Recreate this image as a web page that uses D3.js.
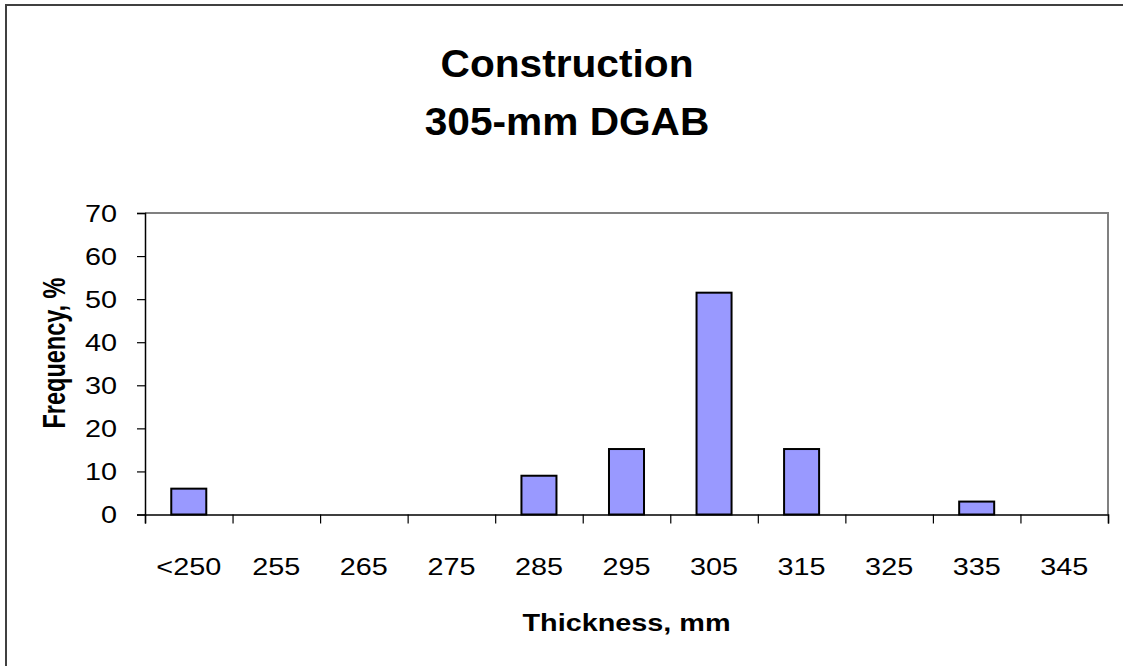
<!DOCTYPE html>
<html>
<head>
<meta charset="utf-8">
<script src="https://cdn.jsdelivr.net/npm/d3@7"></script>
<style>
html,body{margin:0;padding:0;background:#fff;overflow:hidden;width:1123px;height:666px;}
svg{display:block;position:absolute;left:0;top:0;}
text{font-family:"Liberation Sans",Arial,sans-serif;fill:#000;}
</style>
</head>
<body>
<svg id="chart" width="1123" height="666"></svg>
<script>
const categories = ["<250","255","265","275","285","295","305","315","325","335","345"];
const frequency = [6, 0, 0, 0, 9, 15.2, 51.5, 15.2, 0, 3, 0];
const yTicks = [0,10,20,30,40,50,60,70];
const titleLines = ["Construction","305-mm DGAB"];
const xTitle = "Thickness, mm";
const yTitle = "Frequency, %";

const m = {left:145, right:1108, top:213, bottom:514.5};
const SX = 1.2; // horizontal stretch of the reference text

const svg = d3.select("#chart");

svg.append("rect").attr("x",0).attr("y",0).attr("width",1123).attr("height",666).attr("fill","#fff");

// outer chart border: only top and left edges are inside the picture
svg.append("path").attr("d","M6,666V5H1123")
  .attr("fill","none").attr("stroke","#404040").attr("stroke-width",2);

const x = d3.scaleBand().domain(categories).range([m.left,m.right]).paddingInner(0.6).paddingOuter(0.3);
const xi = d3.scaleLinear().domain([0,categories.length]).range([m.left,m.right]);
const y = d3.scaleLinear().domain([0,70]).range([m.bottom,m.top]);

// plot area border top & right
svg.append("path").attr("d",`M${m.left},${m.top}H${m.right}V${m.bottom}`)
  .attr("fill","none").attr("stroke","#808080").attr("stroke-width",2);

// bars
svg.append("g").selectAll("rect").data(categories.map((c,i)=>({c,v:frequency[i]})).filter(d=>d.v>0))
  .join("rect")
  .attr("x",d=>x(d.c)).attr("width",x.bandwidth())
  .attr("y",d=>y(d.v)).attr("height",d=>y(0)-y(d.v))
  .attr("fill","#9999FF").attr("stroke","#000").attr("stroke-width",2);

// y axis
const gy = svg.append("g").attr("transform",`translate(${m.left},0)`)
  .call(d3.axisLeft(y).tickValues(yTicks).tickSize(8).tickPadding(0).tickFormat(d3.format("d")));
gy.select(".domain").attr("stroke","#000").attr("stroke-width",1.5);
gy.selectAll(".tick line").attr("stroke","#000").attr("stroke-width",1.2);
gy.selectAll(".tick text").each(function(){
  d3.select(this).attr("x",null).attr("dy",null).attr("text-anchor","end")
   .attr("font-size",24).attr("dominant-baseline","central")
   .attr("transform",`translate(-28,0) scale(${SX},1)`);
});

// x axis ticks at band boundaries
const gx = svg.append("g").attr("transform",`translate(0,${m.bottom})`)
  .call(d3.axisBottom(xi).tickValues(d3.range(categories.length+1)).tickSize(9).tickFormat(""));
gx.select(".domain").attr("stroke","#000").attr("stroke-width",1.5);
gx.selectAll(".tick line").attr("stroke","#000").attr("stroke-width",1.2);

// x labels
const gxl = svg.append("g").attr("transform",`translate(0,${m.bottom})`)
  .call(d3.axisBottom(x).tickSize(0).tickPadding(0));
gxl.select(".domain").remove();
gxl.selectAll(".tick text").each(function(){
  d3.select(this).attr("y",null).attr("dy",null)
   .attr("font-size",24).attr("text-anchor","middle")
   .attr("transform",`translate(0,60.5) scale(${SX},1)`);
});

// title
const tCx = 567;
svg.append("text").attr("transform",`translate(${tCx},77) scale(1.07,1)`)
  .attr("text-anchor","middle").attr("font-weight","bold").attr("font-size",38).text(titleLines[0]);
svg.append("text").attr("transform",`translate(${tCx},135) scale(1.07,1)`)
  .attr("text-anchor","middle").attr("font-weight","bold").attr("font-size",38).text(titleLines[1]);

// axis titles
svg.append("text").attr("transform",`translate(${(m.left+m.right)/2},631) scale(1.2,1)`)
  .attr("text-anchor","middle").attr("font-weight","bold").attr("font-size",24).text(xTitle);
svg.append("text").attr("transform",`translate(65,353) scale(1.3,1) rotate(-90)`)
  .attr("text-anchor","middle").attr("font-weight","bold").attr("font-size",23.5).text(yTitle);
</script>
</body>
</html>
